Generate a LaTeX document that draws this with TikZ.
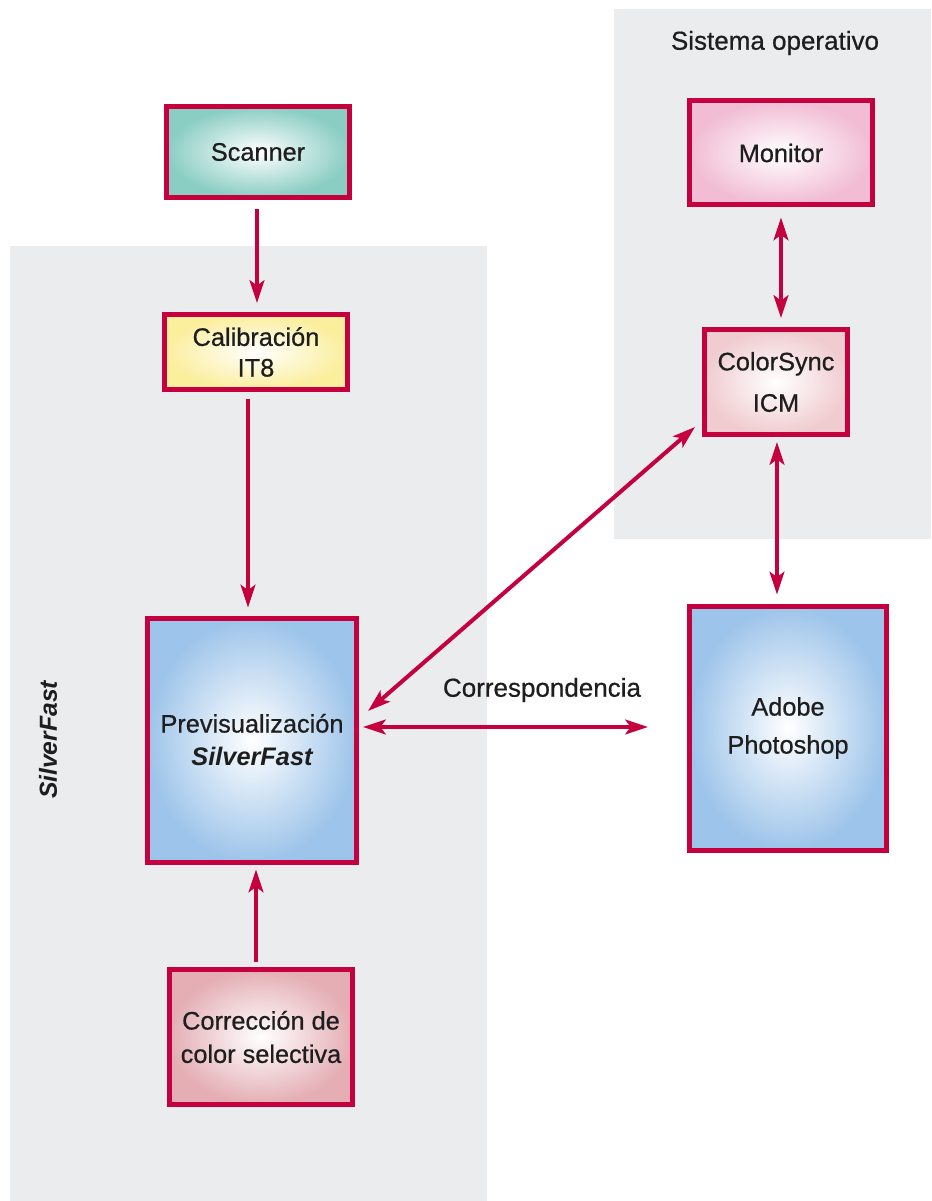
\documentclass[tikz,border=0pt]{standalone}
\usepackage{fontspec}
\setmainfont{Liberation Sans}
\newfontfamily\medf{Liberation Sans}[FakeBold=0.6]
\usetikzlibrary{arrows.meta,calc}
\definecolor{crim}{HTML}{C4003F}
\definecolor{panel}{HTML}{EBECEE}
\definecolor{txt}{HTML}{1E1E1E}
\definecolor{teal}{HTML}{8ACDC3}
\definecolor{yel}{HTML}{FBEE9C}
\definecolor{blu}{HTML}{9DC4EA}
\definecolor{rosec}{HTML}{E4AEB4}
\definecolor{pinkm}{HTML}{F1BCD4}
\definecolor{pinkc}{HTML}{F0CCD0}
\begin{document}
\begin{tikzpicture}[x=0.75pt,y=-0.75pt,
  box/.style={draw=crim,line width=3.75pt,shading=radial,inner color=white,
    align=center,inner sep=0pt,text=txt,font=\medf\fontsize{19}{25}\selectfont},
  tipx/.tip={Stealth[length=17pt,width=11pt,inset=4pt]},
  conn/.style={draw=crim,line width=3pt,-tipx},
  biconn/.style={draw=crim,line width=3pt,tipx-tipx},
  lab/.style={text=txt,font=\medf\fontsize{19.5}{23}\selectfont}]
\useasboundingbox (0,0) rectangle (931,1201);
\fill[panel] (10,246) rectangle (487,1201);
\fill[panel] (614,9) rectangle (931,539);

\node[lab] (sys) at (775,43) {Sistema operativo};
\node[lab,rotate=90,font=\fontsize{18.5}{23}\selectfont\bfseries\itshape] (sf) at (48,740) {SilverFast};
\node[lab] (corresp) at (542,690) {Correspondencia};

\node[box,outer color=teal,minimum width=183*0.75pt,minimum height=91*0.75pt] (scanner) at (258,152) {Scanner};
\node[box,outer color=yel,minimum width=183*0.75pt,minimum height=75*0.75pt,font=\medf\fontsize{19}{23}\selectfont] (calib) at (256,352) {Calibración\\IT8};
\node[box,outer color=blu,minimum width=209*0.75pt,minimum height=244*0.75pt] (prev) at (252,740) {Previsualización\\{\normalfont\fontsize{19}{25}\selectfont\bfseries\itshape SilverFast}};
\node[box,outer color=rosec,minimum width=183*0.75pt,minimum height=135*0.75pt] (corr) at (261,1037) {Corrección de\\color selectiva};
\node[box,outer color=pinkm,minimum width=183*0.75pt,minimum height=104*0.75pt] (monitor) at (781,153) {Monitor};
\node[box,outer color=pinkc,minimum width=143*0.75pt,minimum height=105*0.75pt,font=\medf\fontsize{19}{31}\selectfont] (cs) at (776,382) {ColorSync\\ICM};
\node[box,outer color=blu,minimum width=197*0.75pt,minimum height=244*0.75pt,font=\medf\fontsize{19}{28.5}\selectfont] (photo) at (788,728) {Adobe\\Photoshop};

\draw[conn,shorten <=6.75pt,shorten >=6.75pt] ([shift={(-1,0)}]scanner.south) -- ([shift={(-1,0)}]scanner.south |- calib.north);
\draw[conn,shorten <=5.25pt,shorten >=6pt] ([shift={(-8,0)}]calib.south) -- ([shift={(-8,0)}]calib.south |- prev.north);
\draw[conn,shorten <=3.75pt,shorten >=3.75pt] ([shift={(-5,0)}]corr.north) -- ([shift={(-5,0)}]corr.north |- prev.south);
\draw[biconn,shorten <=7.5pt,shorten >=6.75pt] (monitor.south) -- (monitor.south |- cs.north);
\draw[biconn,shorten <=3.75pt,shorten >=6.75pt] ([shift={(1,0)}]cs.south) -- ([shift={(1,0)}]cs.south |- photo.north);
\draw[biconn] ([shift={(9,-29)}]prev.east) -- ([shift={(-7,-10)}]cs.south west);
\draw[biconn] ([shift={(4,-13)}]prev.east) -- ([shift={(-39,-1)}]photo.west);
\end{tikzpicture}
\end{document}
